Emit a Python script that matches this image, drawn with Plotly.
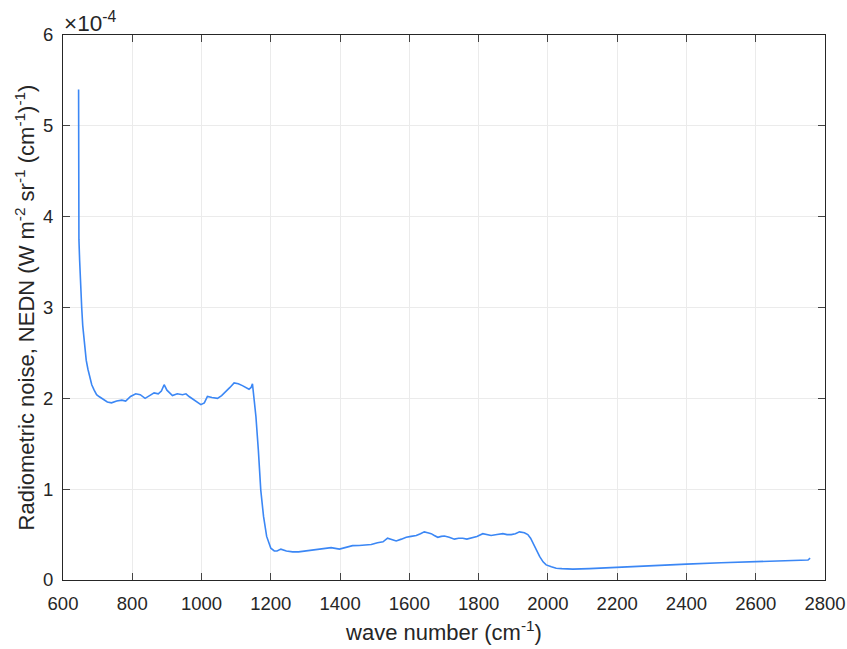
import plotly.graph_objects as go

# wave number (cm^-1) and NEDN values (units of 1e-4 W m^-2 sr^-1 (cm^-1)^-1)
wavenumber = [645, 645, 646, 648, 651, 654, 657, 661, 667, 672, 677, 683, 690, 697, 704, 715,
              728, 740, 755, 770, 781, 795, 810, 823, 837, 850, 863, 875, 884, 892, 900,
              916, 930, 945, 955, 964, 980, 998, 1008, 1017, 1030, 1046, 1058, 1070, 1082,
              1094, 1106, 1118, 1128, 1137, 1143, 1147,
              1152, 1157, 1164, 1171, 1179, 1188, 1200, 1210, 1218, 1229, 1245, 1263, 1280,
              1301, 1320, 1340, 1358, 1374, 1398, 1418, 1436, 1455, 1475, 1490, 1508, 1524,
              1537, 1550, 1562, 1577, 1591, 1605, 1620, 1632, 1643, 1653, 1663, 1672, 1682,
              1692, 1701, 1715, 1730, 1742, 1754, 1766, 1778, 1795, 1812, 1824, 1836, 1853,
              1870, 1882, 1894, 1906, 1918, 1932, 1942, 1950, 1958, 1966, 1976, 1986, 1995,
              2010, 2024, 2040, 2072, 2120, 2197, 2300, 2400, 2500, 2593, 2680, 2751, 2757]
nedn = [5.40, 4.00, 3.75, 3.52, 3.20, 3.00, 2.80, 2.61, 2.42, 2.32, 2.24, 2.15, 2.09, 2.04, 2.02, 1.99,
        1.96, 1.95, 1.97, 1.98, 1.97, 2.02, 2.05, 2.04, 2.00, 2.03, 2.06, 2.05, 2.08, 2.15, 2.09,
        2.03, 2.05, 2.04, 2.05, 2.02, 1.98, 1.93, 1.95, 2.02, 2.01, 2.00, 2.03, 2.07, 2.12,
        2.17, 2.16, 2.14, 2.12, 2.10, 2.12, 2.16,
        1.98, 1.80, 1.43, 0.99, 0.70, 0.48, 0.35, 0.32, 0.32, 0.34, 0.32, 0.31, 0.31,
        0.32, 0.33, 0.34, 0.35, 0.356, 0.34, 0.36, 0.378, 0.38, 0.385, 0.39, 0.41, 0.42,
        0.46, 0.44, 0.43, 0.45, 0.47, 0.48, 0.49, 0.51, 0.53, 0.52, 0.51, 0.49, 0.47,
        0.48, 0.485, 0.47, 0.45, 0.46, 0.46, 0.45, 0.46, 0.48, 0.51, 0.50, 0.49, 0.50,
        0.51, 0.50, 0.50, 0.51, 0.53, 0.52, 0.50, 0.46, 0.40, 0.33, 0.26, 0.20, 0.166,
        0.145, 0.13, 0.125, 0.12, 0.125, 0.14, 0.155, 0.175, 0.19, 0.20, 0.21, 0.22, 0.24]

x_ticks = [600, 800, 1000, 1200, 1400, 1600, 1800, 2000, 2200, 2400, 2600, 2800]
y_ticks = [0, 1, 2, 3, 4, 5, 6]

font_family = "Liberation Sans, Arial, Helvetica, sans-serif"
txt = "#262626"

fig = go.Figure()
fig.add_trace(go.Scatter(x=wavenumber, y=nedn, mode="lines",
                         line=dict(color="#3b87f5", width=1.6), showlegend=False,
                         hoverinfo="skip"))

axis_common = dict(showline=True, linecolor=txt, linewidth=1, mirror="ticks",
                   ticks="inside", ticklen=7, tickcolor="#444444",
                   showgrid=True, gridcolor="#ebebeb", gridwidth=1, zeroline=False,
                   automargin=False,
                   tickfont=dict(family=font_family, size=18.5, color=txt))

fig.update_layout(
    width=847, height=649,
    margin=dict(l=63, r=22, t=35, b=69),
    paper_bgcolor="white", plot_bgcolor="white",
    font=dict(family=font_family, color=txt),
    xaxis=dict(range=[600, 2800], tickvals=x_ticks, ticktext=[str(v) for v in x_ticks],
               ticklabelstandoff=7,
               title=dict(text="wave number (cm<sup>-1</sup>)", standoff=11,
                          font=dict(family=font_family, size=22, color=txt)),
               **axis_common),
    yaxis=dict(range=[0, 6], tickvals=y_ticks, ticktext=[str(v) for v in y_ticks],
               ticklabelstandoff=5,
               title=dict(text="Radiometric noise, NEDN (W m<sup>-2</sup> sr<sup>-1</sup> (cm<sup>-1</sup>)<sup>-1</sup>)",
                          standoff=2, font=dict(family=font_family, size=22, color=txt)),
               **axis_common),
)

fig.add_annotation(xref="paper", yref="paper", x=0, y=1, xanchor="left", yanchor="bottom",
                   yshift=-3, xshift=-1, text="\u00d710<sup>-4</sup>", showarrow=False,
                   font=dict(family=font_family, size=22.5, color=txt))

fig.write_html("out.html", config={"displayModeBar": False},
               post_script="document.body.style.margin='0';document.body.style.overflow='hidden';")
